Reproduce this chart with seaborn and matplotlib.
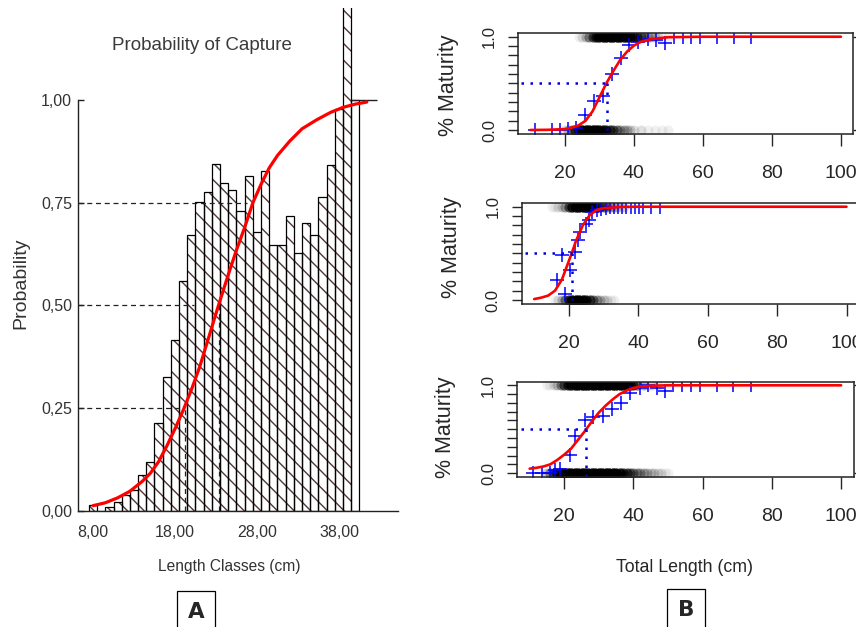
import numpy as np
import pandas as pd
import matplotlib
matplotlib.use("Agg")
import matplotlib.pyplot as plt
import seaborn as sns

# ---------------- data: panel A (probability of capture) ----------------
hist_len = list(range(8, 40))
hist_prob = [0.015, 0.0, 0.01, 0.023, 0.039, 0.05, 0.087, 0.12, 0.213, 0.325,
             0.415, 0.56, 0.672, 0.752, 0.777, 0.844, 0.797, 0.782, 0.729, 0.816,
             0.680, 0.826, 0.646, 0.646, 0.718, 0.628, 0.70, 0.672, 0.763, 0.841,
             0.977, 1.25]
open_len = [40]
open_prob = [1.0]
cap_len = [8, 9.5, 11, 12.5, 14, 15, 16, 17, 18, 19, 20, 21, 22, 23.3, 24.5, 25.5, 26.5,
           27.5, 28.5, 29.5, 30.5, 32, 33.5, 35.3, 37, 38.5, 40, 41.4]
cap_prob = [0.013, 0.02, 0.032, 0.048, 0.072, 0.092, 0.12, 0.158, 0.2, 0.245, 0.295, 0.35,
            0.415, 0.5, 0.575, 0.635, 0.69, 0.75, 0.795, 0.835, 0.865, 0.90, 0.93, 0.952,
            0.97, 0.982, 0.99, 0.995]
ref_levels = [0.25, 0.50, 0.75]
ref_hend = [18.8, 20.3, 26.8]
ref_vx = [19.2, 23.4]
ref_vtop = [0.25, 0.50]
max_line_x = [39.5, 42.6]
a_xticks = [8, 18, 28, 38]
a_xticklabels = ["8,00", "18,00", "28,00", "38,00"]
a_yticks = [0, 0.25, 0.5, 0.75, 1.0]
a_yticklabels = ["0,00", "0,25", "0,50", "0,75", "1,00"]

# ---------------- data: panel B (maturity ogives) ----------------
p1_imm_len = [20, 21, 22, 23, 24, 25, 26, 27, 28, 29, 30, 31, 32, 33, 34, 35, 36, 37, 38, 39, 40, 42, 44, 46, 48, 50]
p1_imm_n = [2, 4, 10, 18, 25, 30, 30, 30, 30, 28, 26, 24, 20, 16, 12, 9, 6, 5, 4, 3, 2, 2, 1, 1, 1, 1]
p1_mat_len = [24, 25, 26, 27, 28, 29, 30, 31, 32, 33, 34, 35, 36, 37, 38, 39, 40, 41, 42, 43, 44, 45, 46, 47, 48, 50]
p1_mat_n = [1, 2, 4, 8, 14, 20, 25, 28, 30, 30, 30, 30, 30, 28, 26, 24, 20, 16, 12, 8, 6, 4, 3, 2, 1, 1]
p1_plus_x = [11.3, 16.3, 18.6, 21.0, 23.3, 25.8, 28.4, 31.1, 33.7, 36.4, 38.7, 41.3, 44.0, 46.5, 49.1,
             51.6, 54.1, 56.6, 59.1, 64.1, 69.0, 73.8]
p1_plus_y = [0, 0, 0, 0.01, 0.02, 0.157, 0.314, 0.36, 0.60, 0.77, 0.91, 0.945, 0.98, 0.965, 0.935,
             1, 1, 1, 1, 1, 1, 1]
p1_curve_x = [10, 15, 20, 22, 24, 26, 28, 30, 32, 34, 36, 38, 40, 42, 45, 50, 60, 100]
p1_curve_y = [0.0, 0.002, 0.01, 0.025, 0.05, 0.1, 0.2, 0.35, 0.5, 0.63, 0.75, 0.84, 0.905, 0.945,
              0.975, 0.995, 1.0, 1.0]
p1_l50 = 32.2

p2_imm_len = [16, 17, 18, 19, 20, 21, 22, 23, 24, 25, 26, 27, 28, 29, 30, 31, 32, 33]
p2_imm_n = [1, 2, 4, 10, 20, 28, 30, 30, 28, 22, 16, 10, 6, 4, 3, 2, 1, 1]
p2_mat_len = [15, 16, 17, 18, 19, 20, 21, 22, 23, 24, 25, 26, 27, 28, 29, 30, 31, 32, 33, 34, 35, 36]
p2_mat_n = [1, 1, 2, 3, 6, 14, 25, 30, 30, 30, 30, 30, 28, 20, 14, 10, 7, 5, 4, 3, 2, 2]
p2_plus_x = [16.5, 17.9, 18.8, 20.3, 21.7, 22.7, 23.2, 24.8, 25.8, 26.7, 28.0, 29.2, 30.6, 31.8,
             33.1, 34.2, 35.4, 36.6, 37.9, 39.0, 40.2, 41.4, 43.8, 46.2]
p2_plus_y = [0.21, 0.48, 0.065, 0.32, 0.52, 0.64, 0.73, 0.82, 0.86, 0.94, 0.97, 0.98, 0.99, 1,
             1, 1, 1, 1, 1, 1, 1, 1, 1, 1]
p2_curve_x = [10, 12, 14, 16, 18, 20, 21, 22, 24, 26, 28, 30, 35, 40, 100]
p2_curve_y = [0.01, 0.025, 0.047, 0.10, 0.22, 0.42, 0.52, 0.63, 0.80, 0.91, 0.965, 0.985, 0.998, 1.0, 1.0]
p2_l50 = 21.0

p3_imm_len = [14, 15, 16, 17, 18, 19, 20, 21, 22, 23, 24, 25, 26, 27, 28, 29, 30, 31, 32, 33, 34,
              35, 36, 37, 38, 39, 40, 41, 42, 43, 44, 45, 46, 47, 48, 49, 50]
p3_imm_n = [1, 3, 8, 15, 22, 30, 30, 30, 30, 30, 30, 30, 30, 30, 30, 30, 30, 30, 30, 30, 30,
            26, 22, 18, 14, 11, 9, 7, 6, 5, 4, 3, 3, 2, 2, 1, 1]
p3_mat_len = [15, 16, 17, 18, 19, 20, 21, 22, 23, 24, 25, 26, 27, 28, 29, 30, 31, 32, 33, 34, 35,
              36, 37, 38, 39, 40, 41, 43, 45, 47, 50]
p3_mat_n = [1, 1, 2, 4, 8, 14, 20, 25, 28, 30, 30, 30, 30, 30, 30, 30, 30, 30, 30, 30, 30,
            30, 30, 26, 22, 18, 12, 6, 3, 2, 1]
p3_plus_x = [11.0, 13.5, 15.8, 17.3, 18.7, 21.7, 23.2, 26.0, 28.4, 31.3, 33.8, 36.4, 39.0, 41.9,
             44.3, 46.7, 49.1, 51.5, 53.9, 56.6, 59.2, 64.0, 68.8, 73.9]
p3_plus_y = [0, 0, 0.005, 0.03, 0.05, 0.21, 0.42, 0.60, 0.635, 0.645, 0.735, 0.795, 0.91, 0.97,
             1.0, 0.97, 0.93, 1, 1, 1, 1, 1, 1, 1]
p3_curve_x = [10, 12, 14, 16, 18, 20, 22, 24, 26, 28, 30, 32, 34, 36, 38, 40, 42, 45, 50, 100]
p3_curve_y = [0.05, 0.06, 0.075, 0.10, 0.15, 0.21, 0.28, 0.38, 0.48, 0.59, 0.69, 0.77, 0.84, 0.90,
              0.94, 0.97, 0.985, 0.995, 1.0, 1.0]
p3_l50 = 26.3

b_xticks = [20, 40, 60, 80, 100]
b_yticks = [0.0, 0.1, 0.2, 0.3, 0.4, 0.5, 0.6, 0.7, 0.8, 0.9, 1.0]
b_yticklabels = ["0.0", "", "", "", "", "", "", "", "", "", "1.0"]

# ---------------- style ----------------
sns.set_style("ticks")
REG = ["Liberation Sans", "DejaVu Sans"]
plt.rcParams["font.family"] = REG
plt.rcParams["hatch.linewidth"] = 1.0

W, H = 856, 627
fig = plt.figure(figsize=(W / 100, H / 100), dpi=100)
fig.patch.set_facecolor("white")


def px_axes(l, t, r, b):
    return fig.add_axes([l / W, 1 - b / H, (r - l) / W, (b - t) / H])


# ================= Panel A =================
axA = px_axes(78, 7.5, 398, 511)
hatch_col = "#4e3838"
sns.histplot(x=hist_len, weights=hist_prob, discrete=True, ax=axA, color="white",
             edgecolor=hatch_col, linewidth=0, hatch="\\\\", alpha=1)
sns.histplot(x=hist_len, weights=hist_prob, discrete=True, ax=axA, fill=False,
             color="black", linewidth=0.9)
sns.histplot(x=open_len, weights=open_prob, discrete=True, ax=axA, fill=False,
             color="black", linewidth=0.9)
axA.set_xlim(6.17, 45.2)
axA.set_ylim(0, 1.225)
axA.hlines(1.0, max_line_x[0], max_line_x[1], color="#222222", lw=1.0)
sns.lineplot(x=cap_len, y=cap_prob, ax=axA, color="#ff0000", lw=2.3, sort=True)
x0 = axA.get_xlim()[0]
for lev, xe in zip(ref_levels, ref_hend):
    axA.plot([x0, xe], [lev, lev], color="#222222", lw=0.9, ls=(0, (4, 3)))
for vx, vt in zip(ref_vx, ref_vtop):
    axA.plot([vx, vx], [0, vt], color="#222222", lw=0.9, ls=(0, (4, 3)))

for s in ["top", "right"]:
    axA.spines[s].set_visible(False)
axA.spines["left"].set_bounds(0, 1)
for s in ["left", "bottom"]:
    axA.spines[s].set_color("#222222")
    axA.spines[s].set_linewidth(1.0)
axA.set_xticks(a_xticks)
axA.set_xticklabels(a_xticklabels, fontsize=11.5, color="#333333")
axA.set_yticks(a_yticks)
axA.set_yticklabels(a_yticklabels, fontsize=11.5, color="#333333")
axA.tick_params(axis="x", length=0, pad=10)
axA.tick_params(axis="y", direction="in", length=4.5, width=1.0, color="#222222", pad=4.3)
axA.set_xlabel("")
axA.set_ylabel("")

fig.text(201.7 / W, 1 - 45 / H, "Probability of Capture", ha="center", va="center",
         fontsize=13.5, color="#3a3a3a")
fig.text(229 / W, 1 - 566.7 / H, "Length Classes (cm)", ha="center", va="center",
         fontsize=11.2, color="#333333")
fig.text(21 / W, 1 - 283 / H, "Probability", ha="center", va="center", rotation=90,
         fontsize=14, color="#333333")

# ================= Panel B =================
def draw_panel(box, imm_len, imm_n, mat_len, mat_n, plus_x, plus_y, cx, cy, l50,
               vbottom, ylab_xy):
    l, t, r, b = box
    ax = px_axes(l, t, r, b)
    gx = np.concatenate([np.repeat(imm_len, imm_n), np.repeat(mat_len, mat_n)])
    gy = np.concatenate([np.zeros(int(np.sum(imm_n))), np.ones(int(np.sum(mat_n)))])
    pts = pd.DataFrame({"len": gx, "mat": gy})
    sns.scatterplot(data=pts, x="len", y="mat", ax=ax, color="black", alpha=0.06, s=52,
                    linewidth=0, legend=False)
    sns.scatterplot(x=plus_x, y=plus_y, ax=ax, marker="+", color="#0000ff", s=90,
                    linewidth=1.1, legend=False)
    sns.lineplot(x=cx, y=cy, ax=ax, color="#ff0000", lw=1.9, sort=True)
    ax.set_xlim(6.4, 103.6)
    ax.set_ylim(-0.045, 1.04)
    ax.plot([7.4, l50], [0.5, 0.5], color="#0000dd", lw=1.8, ls=(0, (1, 2.6)))
    ax.plot([l50, l50], [0.5, vbottom], color="#0000dd", lw=1.8, ls=(0, (1, 2.6)))
    ax.set_xticks(b_xticks)
    ax.set_xticklabels([str(v) for v in b_xticks], fontsize=14)
    ax.set_yticks(b_yticks)
    ax.set_yticklabels(b_yticklabels, rotation=90, va="center", fontsize=12)
    ax.tick_params(axis="x", direction="out", length=8.6, width=1.0, pad=13.5)
    ax.tick_params(axis="y", direction="out", length=7.2, width=1.0, pad=8.0)
    for s in ax.spines.values():
        s.set_visible(True)
        s.set_linewidth(1.1)
        s.set_color("#222222")
    ax.set_xlabel("")
    ax.set_ylabel("")
    ax2 = ax.twinx()
    ax2.set_ylim(ax.get_ylim())
    ax2.set_yticks([0, 1])
    ax2.set_yticklabels([])
    ax2.tick_params(axis="y", direction="out", length=7.2, width=1.0)
    for s in ax2.spines.values():
        s.set_visible(False)
    fig.text(ylab_xy[0] / W, 1 - ylab_xy[1] / H, "% Maturity", rotation=90, ha="center",
             va="center", fontsize=15.5)
    return ax


draw_panel((518, 33, 853.3, 134.2), p1_imm_len, p1_imm_n, p1_mat_len, p1_mat_n,
           p1_plus_x, p1_plus_y, p1_curve_x, p1_curve_y, p1_l50, 0.0, (448.3, 85))
draw_panel((521.7, 203, 859, 304.2), p2_imm_len, p2_imm_n, p2_mat_len, p2_mat_n,
           p2_plus_x, p2_plus_y, p2_curve_x, p2_curve_y, p2_l50, 0.0, (451.7, 247))
draw_panel((517.2, 381.8, 853.6, 477), p3_imm_len, p3_imm_n, p3_mat_len, p3_mat_n,
           p3_plus_x, p3_plus_y, p3_curve_x, p3_curve_y, p3_l50, -0.04, (446, 427))

fig.text(685 / W, 1 - 568 / H, "Total Length (cm)", ha="center", va="center", fontsize=12.8)

for lab, cxp, cyp in [("A", 196, 612), ("B", 686, 610)]:
    fig.text(cxp / W, 1 - cyp / H, lab, ha="center", va="center", fontsize=15.5,
             fontweight="bold", family=["DejaVu Sans"],
             bbox=dict(boxstyle="square,pad=0.5", fc="white", ec="black", lw=0.9))

fig.savefig("out.png", dpi=100, facecolor="white")
